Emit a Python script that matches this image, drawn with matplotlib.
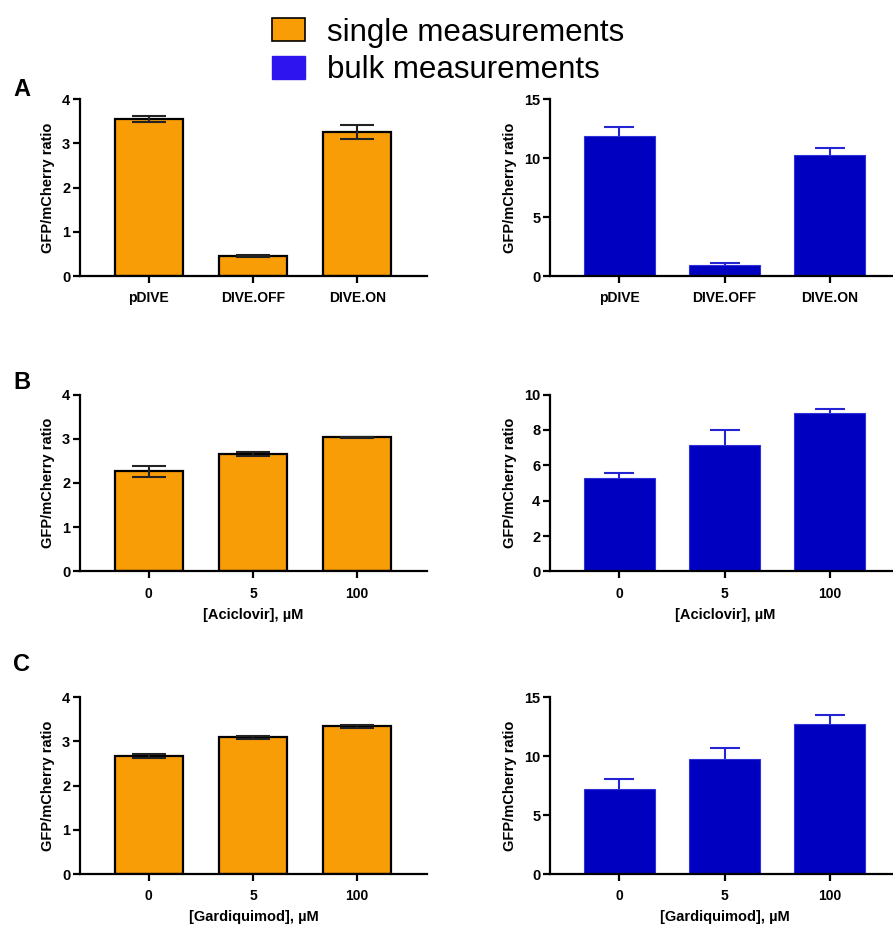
import matplotlib.pyplot as plt
import numpy as np
from matplotlib.patches import Patch

plt.rcParams['font.family'] = ['Liberation Sans', 'DejaVu Sans']
plt.rcParams['font.weight'] = 'bold'

# panel A: constructs
constructs = ['pDIVE', 'DIVE.OFF', 'DIVE.ON']
single_a = [3.55, 0.45, 3.26]
single_a_err = [0.07, 0.03, 0.16]
bulk_a = [11.9, 0.95, 10.25]
bulk_a_err = [0.75, 0.15, 0.6]

# panels B, C: drug doses
doses = ['0', '5', '100']
single_b = [2.26, 2.65, 3.03]
single_b_err = [0.12, 0.05, 0.02]
bulk_b = [5.3, 7.17, 8.93]
bulk_b_err = [0.26, 0.85, 0.24]

single_c = [2.67, 3.09, 3.34]
single_c_err = [0.05, 0.04, 0.03]
bulk_c = [7.22, 9.76, 12.69]
bulk_c_err = [0.85, 0.95, 0.8]

ORANGE = '#F99D07'
BLUE = '#0000C0'
BLUE_ERR = '#2424D4'
LEG_BLUE = '#2E14EE'

fig = plt.figure(figsize=(8.93, 9.30), dpi=100)

rows = [
    (0.7032, constructs, single_a, single_a_err, bulk_a, bulk_a_err, 4, 15, None, 'A', 96),
    (0.3855, doses, single_b, single_b_err, bulk_b, bulk_b_err, 4, 10, '[Aciclovir], \u00b5M', 'B', 389),
    (0.0602, doses, single_c, single_c_err, bulk_c, bulk_c_err, 4, 15, '[Gardiquimod], \u00b5M', 'C', 671),
]
h = 0.1903


def style(ax, ymax, step, labels, xlabel):
    x = np.arange(len(labels))
    ax.set_xlim(-0.66, 2.67)
    ax.set_ylim(0, ymax)
    ax.set_yticks(np.arange(0, ymax + 0.01, step))
    ax.set_xticks(x)
    ax.set_xticklabels(labels, fontsize=10, fontweight='bold')
    for lab in ax.get_yticklabels():
        lab.set_fontsize(10.5)
        lab.set_fontweight('bold')
    for s in ['top', 'right']:
        ax.spines[s].set_visible(False)
    for s in ['left', 'bottom']:
        ax.spines[s].set_linewidth(1.6)
    ax.tick_params(axis='both', width=1.6, length=5, direction='out', pad=2)
    ax.tick_params(axis='x', pad=6)
    ax.set_ylabel('GFP/mCherry ratio', fontsize=10.5, fontweight='bold', labelpad=5)
    if xlabel:
        ax.set_xlabel(xlabel, fontsize=10.5, fontweight='bold', labelpad=5)


for bottom, labels, s_vals, s_err, b_vals, b_err, s_max, b_max, xlabel, letter, ly in rows:
    x = np.arange(len(labels))

    ax1 = fig.add_axes([0.0896, bottom, 0.3886, h])
    ax1.bar(x, s_vals, width=0.65, color=ORANGE, edgecolor='black', linewidth=1.6, zorder=2)
    ax1.errorbar(x, s_vals, yerr=s_err, fmt='none', ecolor='#222222', elinewidth=1.5,
                 capsize=12, capthick=1.5, zorder=3)
    style(ax1, s_max, 1, labels, xlabel)

    ax2 = fig.add_axes([0.6159, bottom, 0.392, h])
    ax2.bar(x, b_vals, width=0.67, color=BLUE, edgecolor='#3030D8', linewidth=0.8, zorder=2)
    # symmetric bars drawn under the bar so only the upper half shows
    ax2.errorbar(x, b_vals, yerr=b_err, fmt='none', ecolor=BLUE_ERR,
                 elinewidth=1.5, capsize=11, capthick=1.5, zorder=1)
    style(ax2, b_max, 5 if b_max == 15 else 2, labels, xlabel)

    fig.text(13 / 893, 1 - ly / 930, letter, fontsize=17, fontweight='bold', va='baseline')

handles = [Patch(facecolor=ORANGE, edgecolor='black', linewidth=1.2),
           Patch(facecolor=LEG_BLUE, edgecolor=LEG_BLUE)]
fig.legend(handles, ['single measurements', 'bulk measurements'], loc='upper center',
           bbox_to_anchor=(0.502, 1.008), frameon=False, prop={'size': 22.5, 'weight': 'normal'},
           handlelength=1.05, handleheight=0.72, handletextpad=0.7, labelspacing=0.25,
           borderpad=0.3)

fig.savefig('out.png', dpi=100)
